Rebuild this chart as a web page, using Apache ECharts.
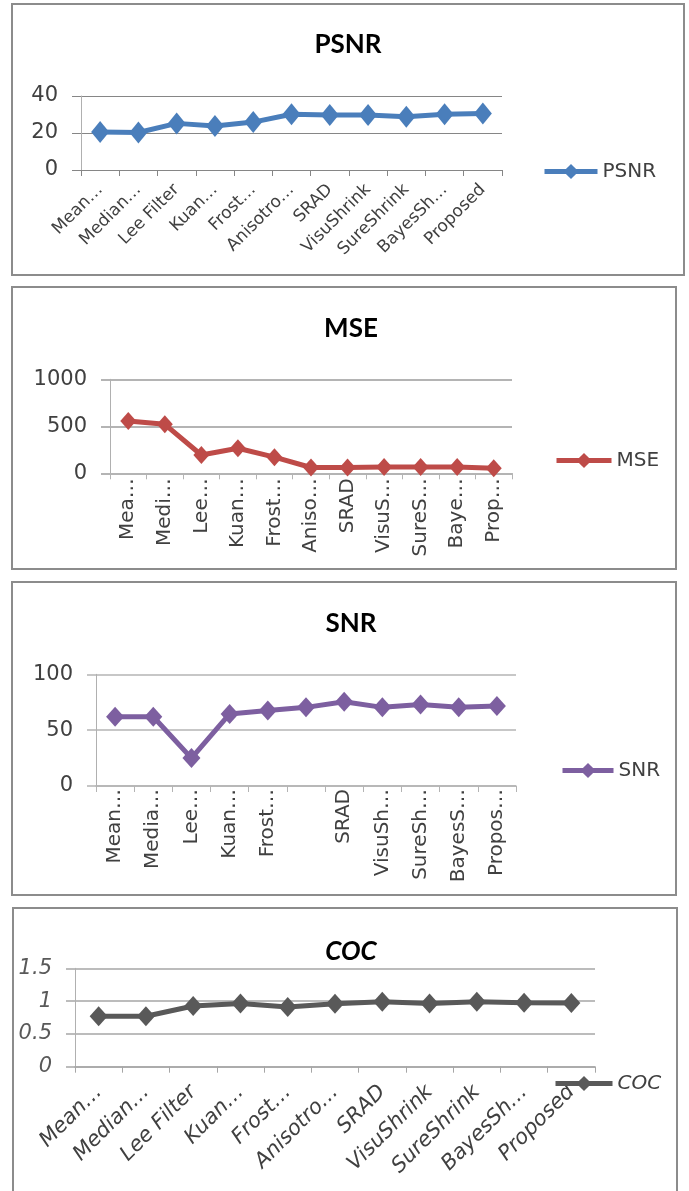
<!DOCTYPE html>
<html><head><meta charset="utf-8">
<script src="https://cdn.jsdelivr.net/npm/echarts@6/dist/echarts.min.js"></script>
<style>html,body{margin:0;padding:0;background:#fff}#c{width:689px;height:1191px}</style>
</head><body><div id="c"></div>
<script>
// ---- data ----
const categories = ["Mean Filter","Median Filter","Lee Filter","Kuan Filter","Frost Filter","Anisotropic","SRAD","VisuShrink","SureShrink","BayesShrink","Proposed"];
const psnrLabels = ["Mean…","Median…","Lee Filter","Kuan…","Frost…","Anisotro…","SRAD","VisuShrink","SureShrink","BayesSh…","Proposed"];
const mseLabels  = ["Mea…","Medi…","Lee…","Kuan…","Frost…","Aniso…","SRAD","VisuS…","SureS…","Baye…","Prop…"];
const snrLabels  = ["Mean…","Media…","Lee…","Kuan…","Frost…","","SRAD","VisuSh…","SureSh…","BayesS…","Propos…"];
const cocLabels  = ["Mean…","Median…","Lee Filter","Kuan…","Frost…","Anisotro…","SRAD","VisuShrink","SureShrink","BayesSh…","Proposed"];
const psnrValues = [20.5, 20.3, 25.2, 23.8, 25.9, 30.1, 29.7, 29.7, 28.8, 30.1, 30.6];
const mseValues  = [556, 521, 195, 266, 172, 62, 62, 68, 68, 66, 55];
const snrValues  = [62, 62, 25, 64.5, 67.5, 70.4, 75.5, 70.4, 73, 70.4, 71.6];
const cocValues  = [0.77, 0.77, 0.925, 0.965, 0.91, 0.96, 0.99, 0.965, 0.99, 0.975, 0.97];
const psnrTicks = [0, 40, 20];
const mseTicks  = [0, 1000, 500];
const snrTicks  = [0, 100, 50];
const cocTicks  = [0, 1.5, 0.5];

// ---- layout / style ----
const panels = [
  {name:'PSNR', labels:psnrLabels, values:psnrValues, ticks:psnrTicks, color:'#4a7ebb',
   grid:{left:81, top:96, width:421, height:74}, box:[12,4,672,271], title:[348,45],
   legend:[542,171,53], sym:[18,22], grid_c:'#868686', grid_w:1, rot:45, lblSize:17, lblMargin:17, italic:false},
  {name:'MSE', labels:mseLabels, values:mseValues, ticks:mseTicks, color:'#be4b48',
   grid:{left:110, top:379.3, width:402, height:94}, box:[12,287,664,282], title:[351,329],
   legend:[554,460,55], sym:[16,18], grid_c:'#b4b4b4', grid_w:2, rot:90, lblSize:20, lblMargin:5, italic:false},
  {name:'SNR', labels:snrLabels, values:snrValues, ticks:snrTicks, color:'#7d5fa0',
   grid:{left:96, top:674.3, width:420, height:111.7}, box:[12,582,664,313], title:[351,624],
   legend:[560,770,51], sym:[18,20], grid_c:'#b4b4b4', grid_w:1.5, rot:90, lblSize:20, lblMargin:3, italic:false},
  {name:'COC', labels:cocLabels, values:cocValues, ticks:cocTicks, color:'#595959',
   grid:{left:75, top:968.3, width:520, height:98.4}, box:[13,908,664,300], title:[351,952],
   legend:[553,1083,57], sym:[18,20], grid_c:'#a6a6a6', grid_w:1.5, rot:45, lblSize:21, lblMargin:22, italic:true}
];

const FONT = 'DejaVu Sans';
const option = {
  backgroundColor:'#fff', animation:false,
  grid:[], xAxis:[], yAxis:[], series:[], legend:[], graphic:[]
};
panels.forEach((p,i)=>{
  option.graphic.push({type:'rect', shape:{x:p.box[0], y:p.box[1], width:p.box[2], height:p.box[3]},
    style:{fill:null, stroke:'#8c8c8c', lineWidth:2}, z:-1});
  option.graphic.push({type:'text', x:p.title[0], y:p.title[1],
    style:{text:p.name, fontFamily:'Lato', fontWeight:'bold', fontStyle:p.italic?'italic':'normal', fontSize:26,
      fill:'#000', align:'center', verticalAlign:'middle'}});
  option.grid.push(Object.assign({containLabel:false}, p.grid));
  option.xAxis.push({type:'category', gridIndex:i, data:p.labels, boundaryGap:true,
    axisLine:{lineStyle:{color:p.grid_c, width:p.grid_w}},
    axisTick:{show:true, length:6, lineStyle:{color:p.grid_c, width:1}},
    axisLabel:{interval:0, rotate:p.rot, margin:p.lblMargin, fontFamily:FONT, fontSize:p.lblSize,
      fontStyle:p.italic?'italic':'normal', color:'#404040', hideOverlap:false}});
  option.yAxis.push({type:'value', gridIndex:i, min:p.ticks[0], max:p.ticks[1], interval:p.ticks[2],
    axisLine:{show:true, lineStyle:{color:'#b0b0b0', width:1}},
    axisTick:{show:true, length:9, lineStyle:{color:p.grid_c, width:p.grid_w}},
    splitLine:{lineStyle:{color:p.grid_c, width:p.grid_w}},
    axisLabel:{margin:23, fontFamily:FONT, fontSize:21, fontStyle:p.italic?'italic':'normal',
      color:p.italic?'#595959':'#404040', formatter:(v)=>String(v)}});
  option.series.push({type:'line', name:p.name, xAxisIndex:i, yAxisIndex:i, data:p.values,
    symbol:'diamond', symbolSize:p.sym, color:p.color,
    lineStyle:{width:5, color:p.color}, itemStyle:{color:p.color}});
  option.legend.push({data:[p.name], left:p.legend[0], top:p.legend[1]-9.5, orient:'vertical', padding:0,
    itemWidth:p.legend[2], itemHeight:19, itemGap:0,
    lineStyle:{width:5, color:p.color}, itemStyle:{color:p.color},
    textStyle:{fontFamily:FONT, fontSize:20, fontStyle:p.italic?'italic':'normal', color:'#404040'}});
});
const chart = echarts.init(document.getElementById('c'), null, {renderer:'canvas'});
chart.setOption(option);
</script></body></html>
